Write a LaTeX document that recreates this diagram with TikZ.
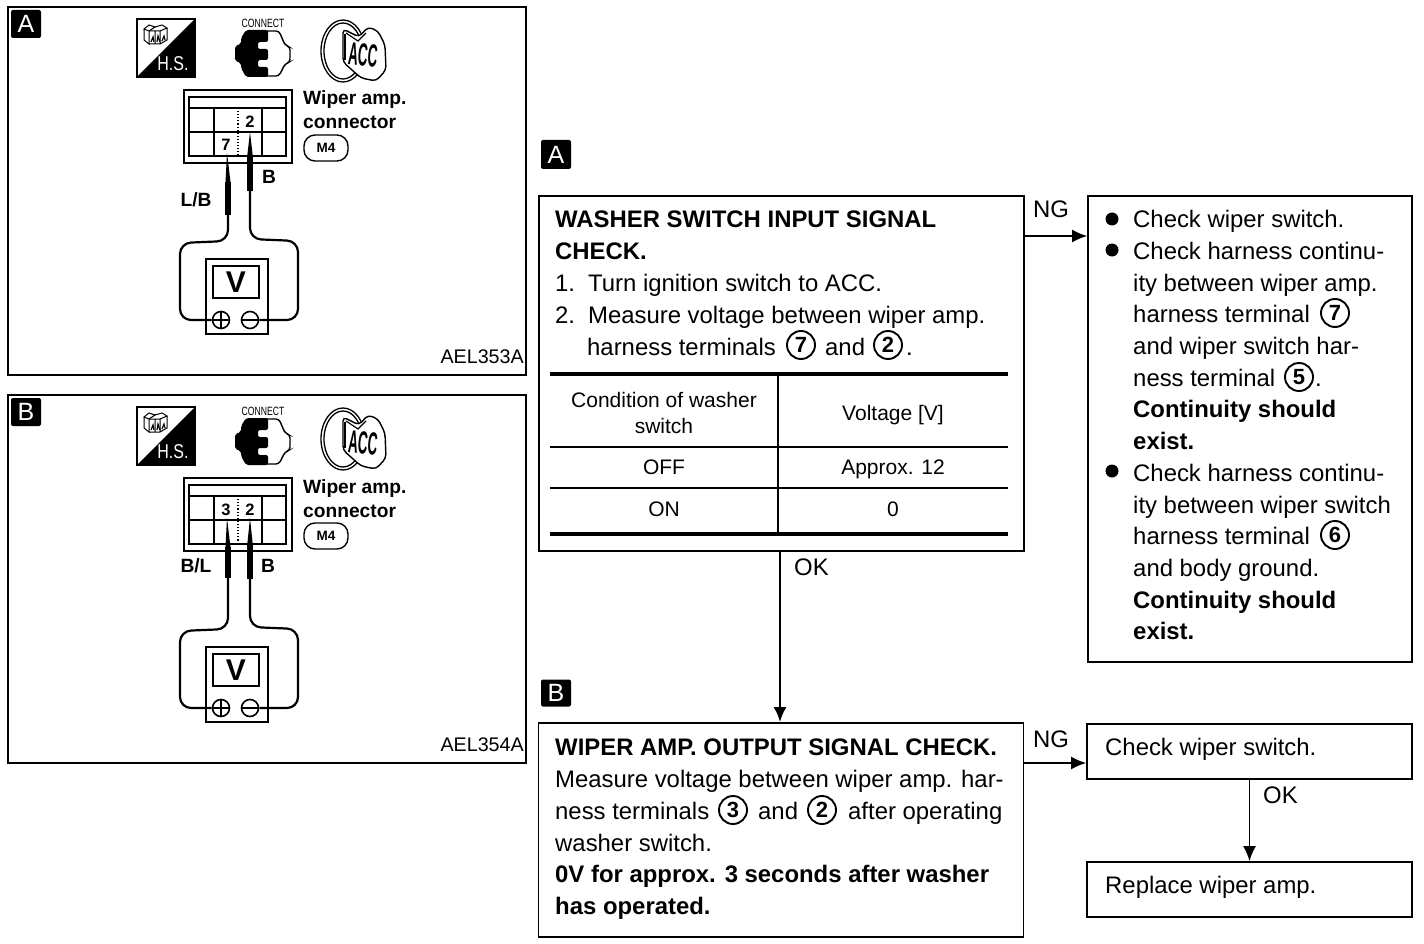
\documentclass[tikz,border=0pt]{standalone}
\usepackage{fontspec}
\setmainfont{Liberation Sans}
\usetikzlibrary{arrows.meta}
\newcounter{tln}
\tikzset{
  box/.style={draw,line width=1.7pt,fill=white,inner sep=0pt},
  flow/.style={line width=1.7pt,-{Latex[length=15pt,width=13pt]}},
  wire/.style={line width=2.2pt,rounded corners=11pt},
  barrel/.style={line width=6pt},
  badge/.style={fill=black,text=white,rounded corners=2pt,minimum width=30pt,minimum height=28pt,inner sep=0pt,font=\fontsize{25}{25}\selectfont},
  cnum/.style={circle,draw,line width=1.9pt,minimum size=28pt,inner sep=0pt,font=\fontsize{22}{22}\selectfont\bfseries},
  pin/.style={inner sep=0pt,font=\fontsize{16.5}{16.5}\selectfont\bfseries},
  lab/.style={inner sep=0pt,font=\fontsize{19.2}{19.2}\selectfont\bfseries},
  thickrule/.style={line width=4.5pt},
  thinrule/.style={line width=1.4pt},
}
\newcommand{\tl}[3]{\stepcounter{tln}\node[anchor=base west,inner sep=0pt] (tl\thetln) at (#1,#2) {\fontsize{23.9}{23.9}\selectfont #3};}
\newcommand{\tb}[3]{\stepcounter{tln}\node[anchor=base,inner sep=0pt] (tl\thetln) at (#1,#2) {\fontsize{21}{21}\selectfont #3};}
\newcommand{\bul}[1]{\fill (1112,#1) circle (6.5);}
\newcommand{\panelcommon}[3]{%
 \begin{scope}[shift={(0,#3)}]
  \node[draw,line width=1.5pt,minimum width=518pt,minimum height=368pt,inner sep=0pt] (#1frame) at (267,191) {};
  \node[badge] (#1badge) at (26,24) {#2};
  % H.S. icon
  \draw[line width=1.2pt] (137,19) rectangle (195,77);
  \fill (195,19) -- (195,77) -- (137,77) -- cycle;
  \node[inner sep=0pt,text=white,font=\fontsize{20}{20}\selectfont] (#1hs) at (173,64) {\scalebox{.8}[1]{H.S.}};
  \begin{scope}[line width=1pt]
   \draw (144,29) -- (149,25) -- (155,27) -- (149,31) -- cycle (144,29) -- (144,40) -- (149,44) -- (149,31);
   \draw (155,27) -- (162,25) -- (167,28) -- (160,31) -- (149,31) (167,28) -- (167,40) -- (160,44) -- (149,44) (155,31) -- (155,44) (160,31) -- (160,44);
   \draw[line width=1.2pt] (151,42) -- (153,37) -- (154,42) (157,42) -- (158,36) -- (160,42) (162,41) -- (164,36) -- (165,40);
  \end{scope}
  % connect icon
  \node[inner sep=0pt,font=\fontsize{12}{12}\selectfont] (#1cl) at (263,23) {\scalebox{.72}[1]{CONNECT}};
  \draw[line width=1.4pt,fill=white,rounded corners=3pt] (250,31) -- (279,31) -- (285,45) -- (290,47) -- (290,62) -- (285,64) -- (279,76) -- (250,76) -- cycle;
  \fill[rounded corners=2pt] (246,30) -- (268,30) -- (268,42) -- (258,42) -- (258,49) -- (268,49) -- (268,60) -- (258,60) -- (258,67) -- (268,67) -- (268,77) -- (246,77) -- (241,68) -- (241,63) -- (235,61) -- (235,46) -- (241,44) -- (241,38) -- cycle;
  % key icon
  \draw[line width=1.3pt] (343,51) ellipse (22 and 31);
  \draw[line width=1.3pt] (343,51) ellipse (19 and 28);
  \draw[line width=1.4pt,fill=white,rounded corners=4pt] (343,29) -- (359,37) -- (368,27) -- (378,31) -- (385,45) -- (386,70) -- (376,81) -- (361,78) -- (343,62) -- cycle;
  \draw[line width=1.2pt] (346,33) -- (358,41) -- (366,33);
  \draw[line width=2.6pt] (345,34) -- (345,60);
  \node[inner sep=0pt,font=\fontsize{32}{32}\selectfont\bfseries,rotate=-5] (#1acc) at (363,55) {\scalebox{.42}[1]{ACC}};
  % connector
  \node[draw,line width=2.2pt,minimum width=108pt,minimum height=73pt,inner sep=0pt] (#1conn) at (238,126.5) {};
  \draw[line width=2pt] (189,97) rectangle (286,156);
  \draw[line width=1.5pt] (189,108) -- (286,108) (189,132) -- (286,132) (214,108) -- (214,156) (262,108) -- (262,156);
  \draw[line width=1.1pt,dotted] (238,108) -- (238,156);
  \node[lab,anchor=base west] (#1w1) at (303,105) {Wiper amp.};
  \node[lab,anchor=base west] (#1w2) at (303,129) {connector};
  \node[draw,rounded corners=11pt,line width=1.4pt,minimum width=44pt,minimum height=26pt,inner sep=0pt,font=\fontsize{13.5}{13.5}\selectfont\bfseries] (#1m4) at (326,148) {M4};
  % meter
  \node[draw,line width=2pt,minimum width=62pt,minimum height=75pt,inner sep=0pt] (#1meter) at (237,296.5) {};
  \node[draw,line width=2pt,minimum width=46pt,minimum height=32pt,inner sep=0pt,font=\fontsize{30}{30}\selectfont\bfseries] (#1win) at (236,282) {V};
  \node[circle,draw,line width=1.6pt,minimum size=17pt,inner sep=0pt] (#1plus) at (221,320) {};
  \node[circle,draw,line width=1.6pt,minimum size=17pt,inner sep=0pt] (#1minus) at (250,320) {};
  \draw[line width=1.6pt] (#1plus.west) -- (#1plus.east) (#1plus.north) -- (#1plus.south) (#1minus.west) -- (#1minus.east);
 \end{scope}}
% prefix, dy, left tip, left barrel top, left barrel bottom, right tip, right barrel top, right barrel bottom
\newcommand{\probes}[8]{%
 \begin{scope}[shift={(0,#2)}]
  \coordinate (#1lt) at (227,#3); \coordinate (#1lb) at (228,#5);
  \coordinate (#1rt) at (250,#6); \coordinate (#1rb) at (250,#8);
  \fill (#1lt) -- (225.5,#4) -- (230.5,#4) -- cycle;
  \fill (#1rt) -- (247,#7) -- (253,#7) -- cycle;
  \draw[barrel] (228,#4) -- (#1lb);
  \draw[barrel] (250,#7) -- (#1rb);
  \draw[wire] (#1lb) -- (228,241) -- (180,243) -- (180,320) -- (#1plus.west);
  \draw[wire] (#1rb) -- (250,239) -- (298,241) -- (298,320) -- (#1minus.east);
 \end{scope}}
\begin{document}
\begin{tikzpicture}[x=1pt,y=-1pt,line cap=butt]
\useasboundingbox (0,0) rectangle (1424,944);
\panelcommon{pa}{A}{0}
\probes{pa}{0}{153}{182}{215}{132}{158}{191}
\node[pin] (pa7) at (226,145) {7};
\node[pin] (pa2) at (250,122) {2};
\node[lab] (paB) at (269,177) {B};
\node[lab] (paLB) at (196,200) {L/B};
\node[anchor=base east,inner sep=0pt,font=\fontsize{19.7}{19.7}\selectfont] (pacode) at (524,363) {AEL353A};
\panelcommon{pb}{B}{388}
\probes{pb}{388}{130}{159}{190}{130}{159}{191}
\node[pin] (pb3) at (226,510) {3};
\node[pin] (pb2) at (250,510) {2};
\node[lab] (pbB) at (268,566) {B};
\node[lab] (pbBL) at (196,566) {B/L};
\node[anchor=base east,inner sep=0pt,font=\fontsize{19.7}{19.7}\selectfont] (pbcode) at (524,751) {AEL354A};
% right side
\node[badge,minimum width=30pt,minimum height=29pt] (la) at (556,154.5) {A};
\node[badge,minimum width=30pt,minimum height=27pt] (lb) at (556,693) {B};
\node[box,minimum width=485pt,minimum height=355pt] (chkA) at (781.5,373.5) {};
\node[box,minimum width=324pt,minimum height=466pt] (resA) at (1250,429) {};
\node[box,minimum width=485pt,minimum height=214pt] (chkB) at (781,830) {};
\node[box,minimum width=325pt,minimum height=55pt] (resB) at (1249.5,751.5) {};
\node[box,minimum width=325pt,minimum height=55pt] (repl) at (1249.5,889.5) {};
\coordinate (ngA) at (0,236); \coordinate (ngB) at (0,763);
\draw[flow] (chkA.east |- ngA) -- (resA.west |- ngA);
\draw[flow] (chkB.east |- ngB) -- (resB.west |- ngB);
\coordinate (okx) at (780,0);
\draw[flow,line width=2.6pt] (okx |- chkA.south) -- (okx |- chkB.north);
\draw[flow] (resB.south) -- (repl.north);
\tl{1033}{218}{NG}
\tl{1033}{747}{NG}
\tl{794}{575}{OK}
\tl{1263}{803}{OK}
\tl{555}{227}{\textbf{WASHER SWITCH INPUT SIGNAL}}
\tl{555}{259}{\textbf{CHECK.}}
\tl{555}{291}{1.\hspace{13pt}Turn ignition switch to ACC.}
\tl{555}{323}{2.\hspace{13pt}Measure voltage between wiper amp.}
\tl{587}{355}{harness terminals}
\tl{825}{355}{and}
\node[cnum] (c1) at (801,345) {7};
\node[cnum] (c2) at (888,345) {2};
\tl{906}{355}{.}
% table
\draw[thickrule] (550,374) -- (1008,374) (550,534) -- (1008,534);
\draw[thinrule] (550,447) -- (1008,447) (550,488) -- (1008,488) (778,374) -- (778,534);
\tb{664}{407}{Condition of washer}
\tb{664}{433}{switch}
\tb{893}{420}{Voltage [V]}
\tb{664}{474}{OFF}
\tb{893}{474}{Approx. 12}
\tb{664}{516}{ON}
\tb{893}{516}{0}
% result A
\bul{219}\bul{250}\bul{471}
\tl{1133}{227}{Check wiper switch.}
\tl{1133}{259}{Check harness continu-}
\tl{1133}{291}{ity between wiper amp.}
\tl{1133}{322}{harness terminal}
\node[cnum] (c3) at (1335,313) {7};
\tl{1133}{354}{and wiper switch har-}
\tl{1133}{386}{ness terminal}
\node[cnum] (c4) at (1299,377) {5};
\tl{1315}{386}{.}
\tl{1133}{417}{\textbf{Continuity should}}
\tl{1133}{449}{\textbf{exist.}}
\tl{1133}{481}{Check harness continu-}
\tl{1133}{513}{ity between wiper switch}
\tl{1133}{544}{harness terminal}
\node[cnum] (c5) at (1335,535) {6};
\tl{1133}{576}{and body ground.}
\tl{1133}{608}{\textbf{Continuity should}}
\tl{1133}{639}{\textbf{exist.}}
% check B
\tl{555}{755}{\textbf{WIPER AMP. OUTPUT SIGNAL CHECK.}}
\tl{555}{787}{Measure voltage between wiper amp. har-}
\tl{555}{819}{ness terminals}
\node[cnum] (c6) at (733,810) {3};
\tl{758}{819}{and}
\node[cnum] (c7) at (822,810) {2};
\tl{848}{819}{after operating}
\tl{555}{851}{washer switch.}
\tl{555}{882}{\textbf{0V for approx. 3 seconds after washer}}
\tl{555}{914}{\textbf{has operated.}}
\tl{1105}{755}{Check wiper switch.}
\tl{1105}{893}{Replace wiper amp.}
\end{tikzpicture}
\end{document}
